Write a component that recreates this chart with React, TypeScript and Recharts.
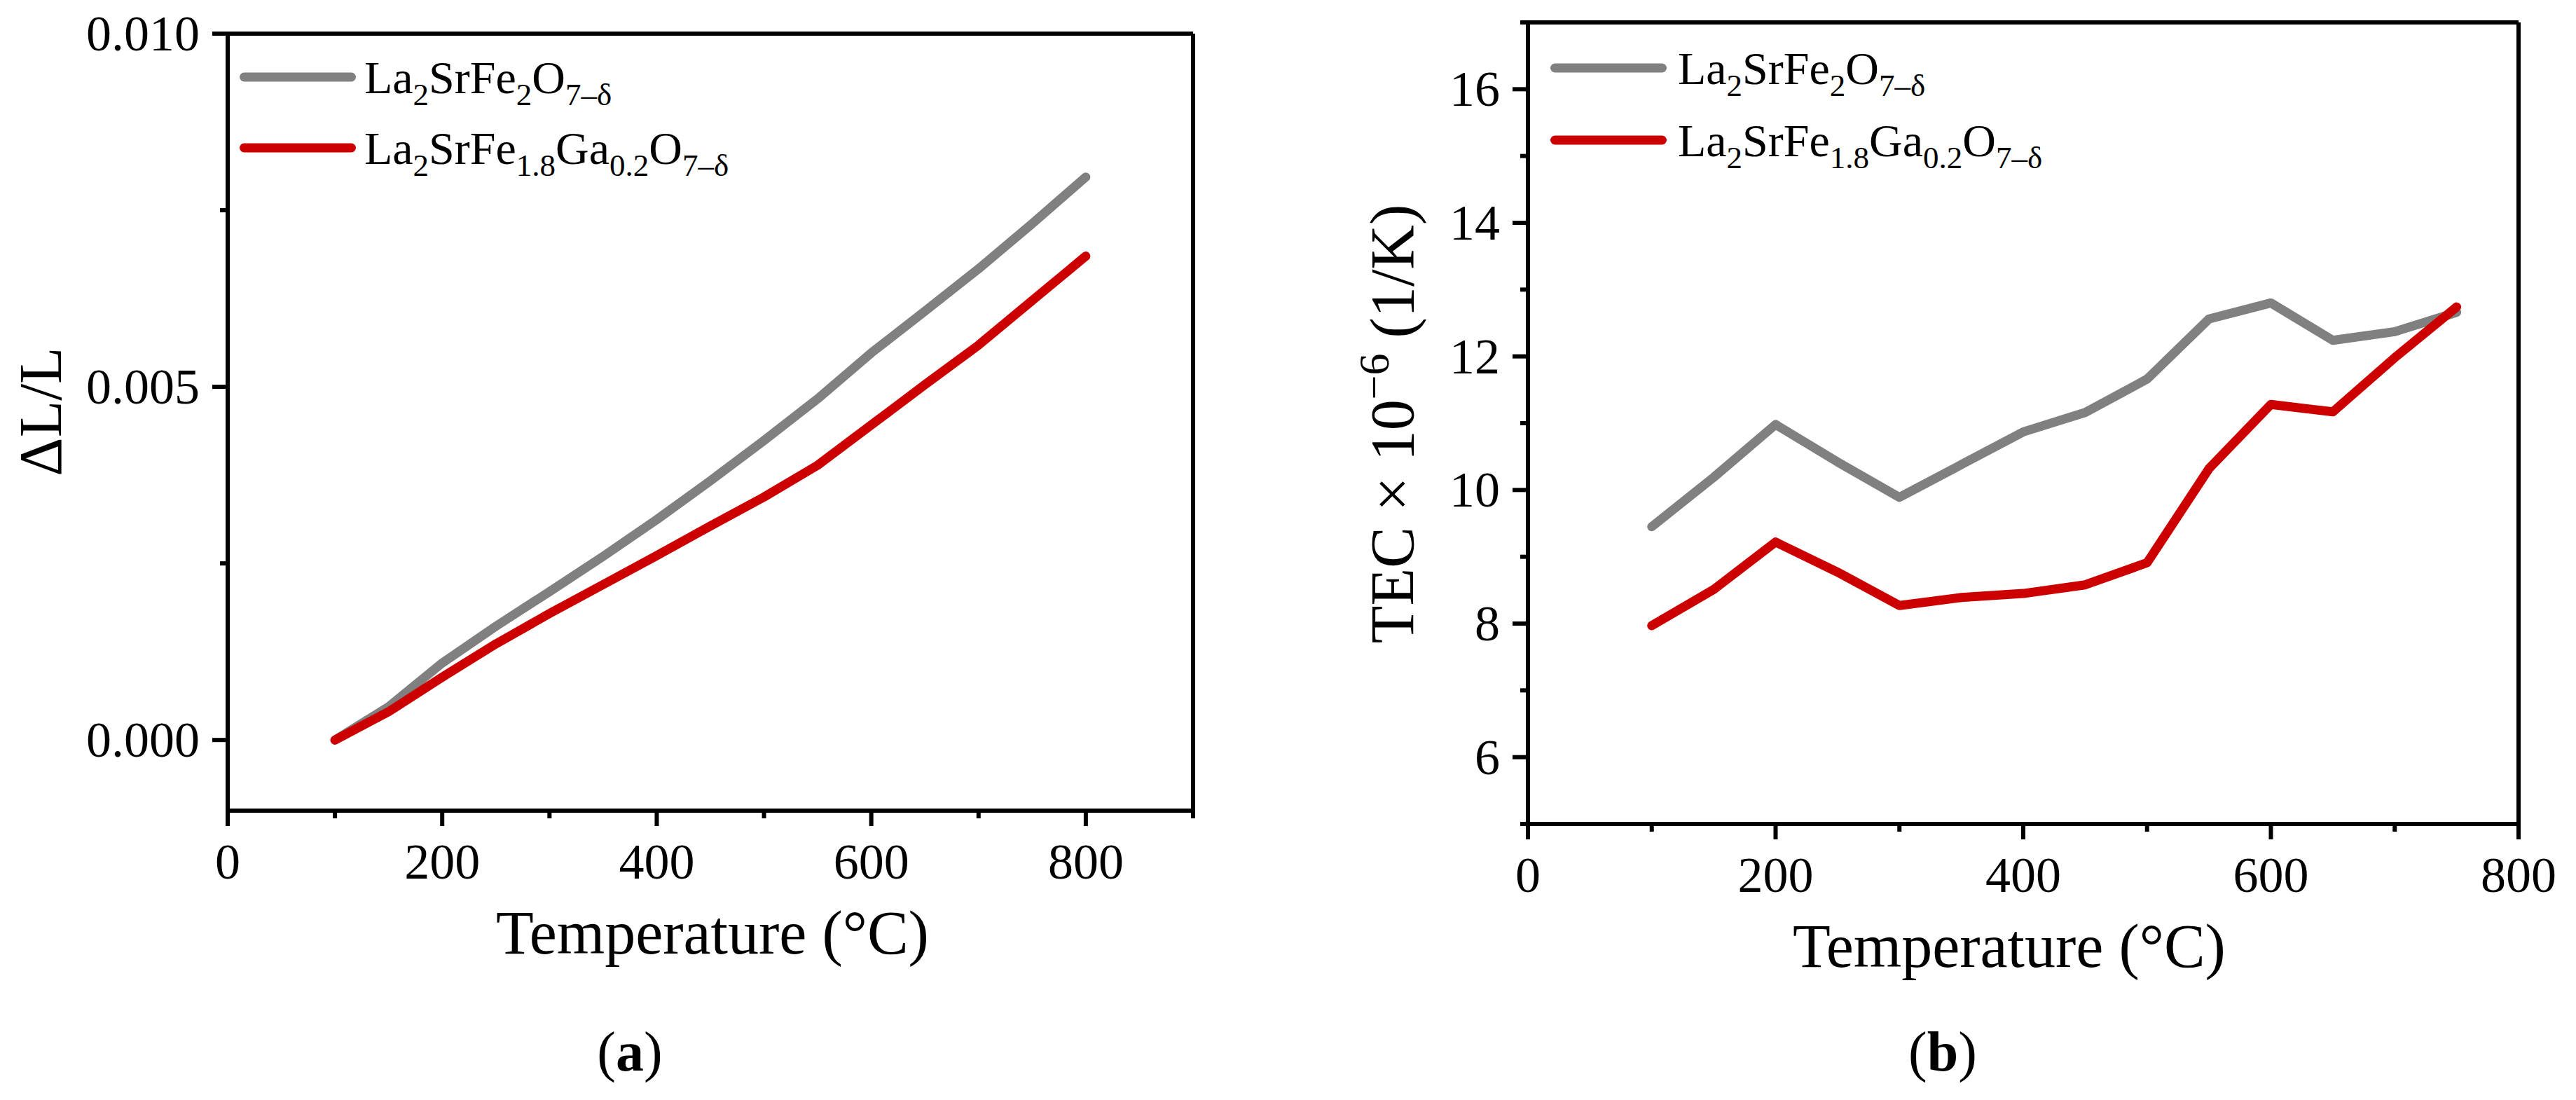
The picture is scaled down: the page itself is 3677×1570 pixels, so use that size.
import React from 'react';
import { LineChart, Line, XAxis, YAxis, Legend, Label, ReferenceLine } from 'recharts';

const FONT = "'Liberation Serif', 'Times New Roman', serif";
const GRAY = '#808080';
const RED = '#cc0000';

// (a) dilatometry, ΔL/L vs temperature
const TEMP_A = [100, 150, 200, 250, 300, 350, 400, 450, 500, 550, 600, 650, 700, 750, 800];
const DL_FE = [0, 0.00047, 0.00109, 0.00161, 0.0021, 0.0026, 0.00312, 0.00367, 0.00424, 0.00483, 0.00548, 0.00607, 0.00667, 0.00731, 0.00797];
const DL_GA = [0, 0.0004, 0.00089, 0.00136, 0.00179, 0.0022, 0.00261, 0.00303, 0.00344, 0.00389, 0.00446, 0.00503, 0.00559, 0.00622, 0.00685];
const X_TICKS_A = [0, 100, 200, 300, 400, 500, 600, 700, 800, 900];
const X_MAJOR_A = [0, 200, 400, 600, 800];
const Y_TICKS_A = [0, 0.0025, 0.005, 0.0075, 0.01];
const Y_MAJOR_A = [0, 0.005, 0.01];

// (b) TEC vs temperature
const TEMP_B = [100, 150, 200, 250, 300, 350, 400, 450, 500, 550, 600, 650, 700, 750];
const TEC_FE = [9.45, 10.19, 10.98, 10.42, 9.89, 10.38, 10.87, 11.16, 11.66, 12.56, 12.8, 12.24, 12.37, 12.66];
const TEC_GA = [7.97, 8.51, 9.22, 8.77, 8.27, 8.39, 8.45, 8.58, 8.91, 10.32, 11.28, 11.17, 11.98, 12.74];
const X_TICKS_B = [0, 100, 200, 300, 400, 500, 600, 700, 800];
const X_MAJOR_B = [0, 200, 400, 600, 800];
const Y_TICKS_B = [5, 6, 7, 8, 9, 10, 11, 12, 13, 14, 15, 16, 17];
const Y_MAJOR_B = [6, 8, 10, 12, 14, 16];

// formula pieces: [text, isSubscript]
const FE_NAME: [string, boolean][] = [['La', false], ['2', true], ['SrFe', false], ['2', true], ['O', false], ['7–δ', true]];
const GA_NAME: [string, boolean][] = [['La', false], ['2', true], ['SrFe', false], ['1.8', true], ['Ga', false], ['0.2', true], ['O', false], ['7–δ', true]];

const dataA = TEMP_A.map((t, i) => ({ t, fe: DL_FE[i], ga: DL_GA[i] }));
const dataB = TEMP_B.map((t, i) => ({ t, fe: TEC_FE[i], ga: TEC_GA[i] }));

function Formula({ parts, x, y }: { parts: [string, boolean][]; x: number; y: number }) {
  let prevSub = false;
  return (
    <text x={x} y={y} fontFamily={FONT} fontSize={66} fill="#000">
      {parts.map(([s, sub], i) => {
        const dy = sub === prevSub ? 0 : sub ? 17 : -17;
        prevSub = sub;
        return (
          <tspan key={i} dy={dy} fontSize={sub ? 45 : 66}>{s}</tspan>
        );
      })}
    </text>
  );
}

function LegendSvg({ lineX, textX, rows }: { lineX: number; textX: number; rows: { y: number; color: string; parts: [string, boolean][] }[] }) {
  return (
    <svg width={1000} height={300} style={{ display: 'block', overflow: 'visible' }}>
      {rows.map((r, i) => (
        <g key={i}>
          <line x1={lineX + 6.5} x2={lineX + 159.5} y1={r.y} y2={r.y} stroke={r.color} strokeWidth={13} strokeLinecap="round" />
          <Formula parts={r.parts} x={textX} y={r.y + 23} />
        </g>
      ))}
    </svg>
  );
}

function makeXTick(majors: number[]) {
  return (p: any) => {
    const { x, y, payload } = p;
    const major = majors.includes(payload.value);
    return (
      <g>
        <line x1={x} x2={x} y1={y} y2={y + (major ? 22 : 11)} stroke="#000" strokeWidth={6} />
        {major && (
          <text x={x} y={y + 97} textAnchor="middle" fontFamily={FONT} fontSize={72} fill="#000">{payload.value}</text>
        )}
      </g>
    );
  };
}

function makeYTick(majors: number[], fmt: (v: number) => string) {
  return (p: any) => {
    const { x, y, payload } = p;
    const major = majors.includes(payload.value);
    return (
      <g>
        <line x1={x} x2={x - (major ? 22 : 11)} y1={y} y2={y} stroke="#000" strokeWidth={6} />
        {major && (
          <text x={x - 40} y={y + 24} textAnchor="end" fontFamily={FONT} fontSize={72} fill="#000">{fmt(payload.value)}</text>
        )}
      </g>
    );
  };
}

function makeXLabel(letter: string, shift: number) {
  return (p: any) => {
    const vb = p.viewBox;
    const cx = vb.x + vb.width / 2;
    return (
      <g>
        <text x={cx + shift} y={vb.y + 204} textAnchor="middle" fontFamily={FONT} fontSize={88} fill="#000">Temperature (°C)</text>
        <text x={cx - 115} y={vb.y + vb.height - 42} textAnchor="middle" fontFamily={FONT} fontSize={80} fill="#000">
          (<tspan fontWeight="bold">{letter}</tspan>)
        </text>
      </g>
    );
  };
}

const yLabelA = (p: any) => {
  const vb = p.viewBox;
  const x = vb.x + 87;
  const y = vb.y + vb.height / 2 - 15;
  return (
    <text x={x} y={y} transform={`rotate(-90, ${x}, ${y})`} textAnchor="middle" fontFamily={FONT} fontSize={86} fill="#000">ΔL/L</text>
  );
};

const yLabelB = (p: any) => {
  const vb = p.viewBox;
  const x = vb.x + 179;
  const y = vb.y + vb.height / 2 + 1;
  return (
    <text x={x} y={y} transform={`rotate(-90, ${x}, ${y})`} textAnchor="middle" fontFamily={FONT} fontSize={88} fill="#000">
      TEC × 10<tspan dy={-35} fontSize={62}>−6</tspan><tspan dy={35} fontSize={88}> (1/K)</tspan>
    </text>
  );
};

const axisLine = { stroke: '#000', strokeWidth: 6 };

export default function App() {
  return (
    <div style={{ position: 'absolute', left: 0, top: 0, width: 3677, height: 1570, background: '#fff' }}>
      <div style={{ position: 'absolute', left: 0, top: 0 }}>
        <LineChart width={1800} height={1570} data={dataA} margin={{ top: 48, right: 97, left: 0, bottom: 0 }}>
          <XAxis dataKey="t" type="number" domain={[0, 900]} ticks={X_TICKS_A} interval={0} height={413}
            tickSize={0} tickMargin={0} tickLine={false} axisLine={axisLine} tick={makeXTick(X_MAJOR_A)}>
            <Label content={makeXLabel('a', 3)} />
          </XAxis>
          <YAxis type="number" domain={[-0.001, 0.01]} ticks={Y_TICKS_A} interval={0} width={325}
            tickSize={0} tickMargin={0} tickLine={false} axisLine={axisLine} tick={makeYTick(Y_MAJOR_A, (v) => v.toFixed(3))}>
            <Label content={yLabelA} />
          </YAxis>
          <ReferenceLine y={0.01} stroke="#000" strokeWidth={6} />
          <ReferenceLine x={900} stroke="#000" strokeWidth={6} />
          <Line type="linear" dataKey="fe" stroke={GRAY} strokeWidth={13} dot={false} strokeLinecap="round" strokeLinejoin="round" isAnimationActive={false} />
          <Line type="linear" dataKey="ga" stroke={RED} strokeWidth={13} dot={false} strokeLinecap="round" strokeLinejoin="round" isAnimationActive={false} />
          <Legend layout="vertical" align="center" verticalAlign="middle"
            wrapperStyle={{ left: 0, top: 0, width: 1000, height: 300 }}
            content={() => (
              <LegendSvg lineX={342} textX={520} rows={[
                { y: 110, color: GRAY, parts: FE_NAME },
                { y: 211, color: RED, parts: GA_NAME },
              ]} />
            )} />
        </LineChart>
      </div>
      <div style={{ position: 'absolute', left: 1838, top: 0 }}>
        <LineChart width={1839} height={1570} data={dataB} margin={{ top: 32, right: 82, left: 0, bottom: 0 }}>
          <XAxis dataKey="t" type="number" domain={[0, 800]} ticks={X_TICKS_B} interval={0} height={394}
            tickSize={0} tickMargin={0} tickLine={false} axisLine={axisLine} tick={makeXTick(X_MAJOR_B)}>
            <Label content={makeXLabel('b', -20)} />
          </XAxis>
          <YAxis type="number" domain={[5, 17]} ticks={Y_TICKS_B} interval={0} width={343}
            tickSize={0} tickMargin={0} tickLine={false} axisLine={axisLine} tick={makeYTick(Y_MAJOR_B, (v) => String(v))}>
            <Label content={yLabelB} />
          </YAxis>
          <ReferenceLine y={17} stroke="#000" strokeWidth={6} />
          <ReferenceLine x={800} stroke="#000" strokeWidth={6} />
          <Line type="linear" dataKey="fe" stroke={GRAY} strokeWidth={13} dot={false} strokeLinecap="round" strokeLinejoin="round" isAnimationActive={false} />
          <Line type="linear" dataKey="ga" stroke={RED} strokeWidth={13} dot={false} strokeLinecap="round" strokeLinejoin="round" isAnimationActive={false} />
          <Legend layout="vertical" align="center" verticalAlign="middle"
            wrapperStyle={{ left: 0, top: 0, width: 1000, height: 300 }}
            content={() => (
              <LegendSvg lineX={375} textX={557} rows={[
                { y: 97, color: GRAY, parts: FE_NAME },
                { y: 200, color: RED, parts: GA_NAME },
              ]} />
            )} />
        </LineChart>
      </div>
    </div>
  );
}
